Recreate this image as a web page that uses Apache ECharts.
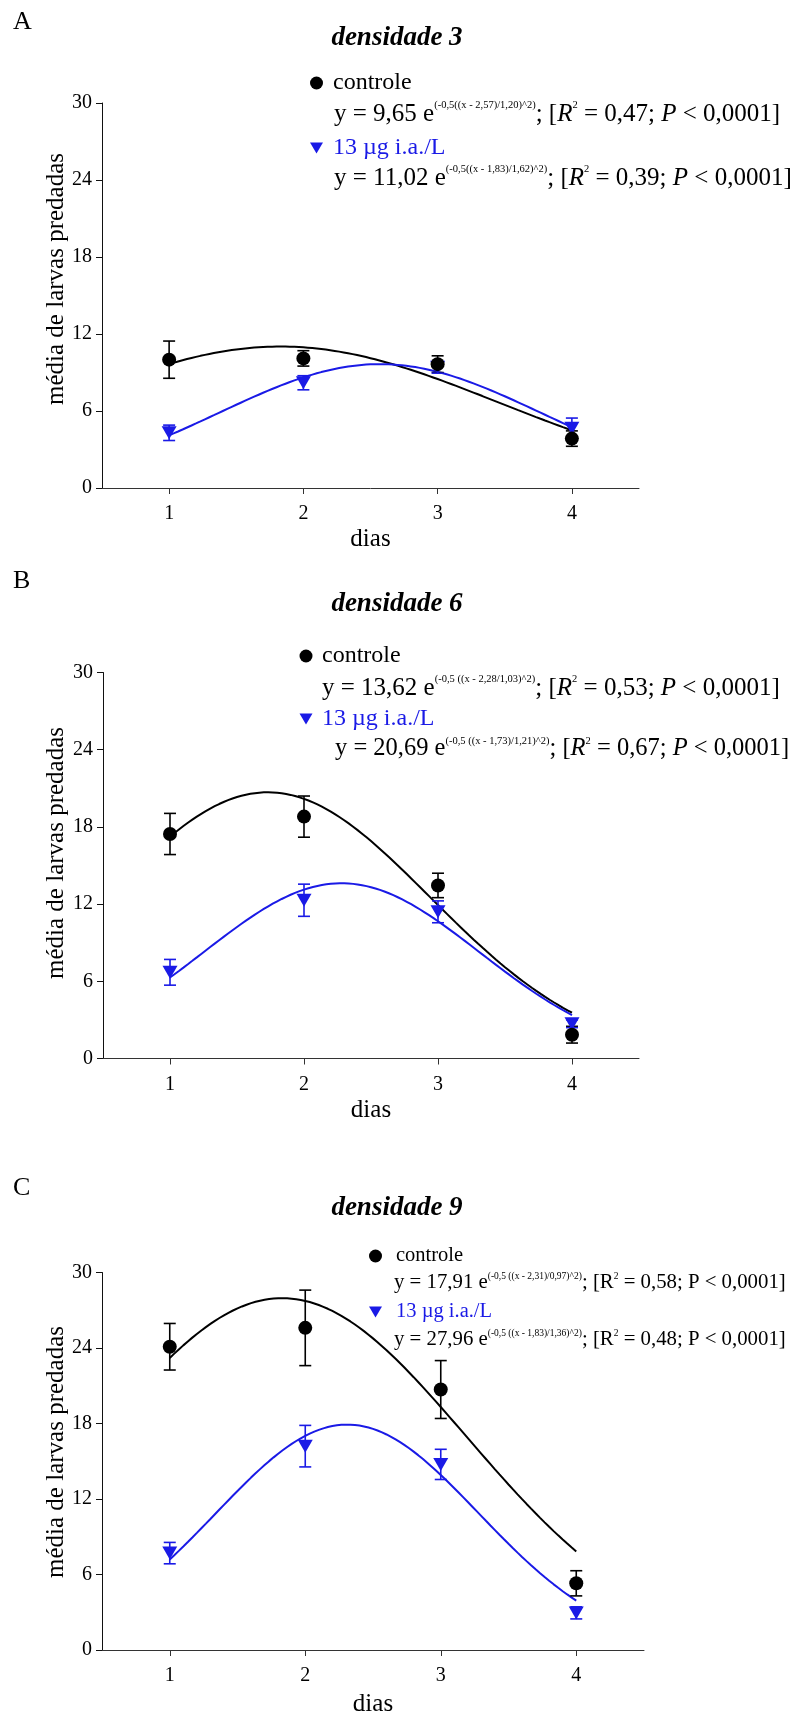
<!DOCTYPE html>
<html>
<head>
<meta charset="utf-8">
<script src="https://cdn.jsdelivr.net/npm/echarts@6/dist/echarts.min.js"></script>
<style>
  html, body { margin: 0; padding: 0; background: #fff; }
  #chart { width: 792px; height: 1718px; }
</style>
</head>
<body>
<div id="chart"></div>
<script>
// ---- data: mean number of preyed larvae per day (± error) ----
const dias = [1, 2, 3, 4];
const yTicks = [0, 6, 12, 18, 24, 30];

// densidade 3
const controleA    = [10.0, 10.1, 9.65, 3.85];
const controleAErr = [1.45, 0.6, 0.65, 0.6];
const tratA        = [4.3, 8.2, 9.4, 4.65];
const tratAErr     = [0.6, 0.55, 0.45, 0.8];

// densidade 6
const controleB    = [17.45, 18.8, 13.45, 1.85];
const controleBErr = [1.6, 1.6, 0.95, 0.65];
const tratB        = [6.7, 12.3, 11.4, 2.7];
const tratBErr     = [1.0, 1.25, 0.85, 0.3];

// densidade 9
const controleC    = [24.1, 25.6, 20.7, 5.3];
const controleCErr = [1.85, 3.0, 2.3, 1.0];
const tratC        = [7.7, 16.2, 14.75, 2.95];
const tratCErr     = [0.85, 1.65, 1.2, 0.48];

// Gaussian fit parameters [a, x0, b] for y = a·exp(-0.5((x - x0)/b)^2),
// black curve and blue curve of each panel
const fitBlackA = [11.02, 1.83, 1.62];
const fitBlueA  = [9.65, 2.57, 1.20];
const fitBlackB = [20.69, 1.73, 1.21];
const fitBlueB  = [13.62, 2.28, 1.03];
const fitBlackC = [27.96, 1.83, 1.36];
const fitBlueC  = [17.91, 2.31, 0.97];

// legend / equation texts
const lblControle = 'controle';
const lblTrat = '13 µg i.a./L';
const yName = 'média de larvas predadas';
const eqA = [
  '{n|y = 9,65 e}{s|(-0,5((x - 2,57)/1,20)^2)}{n|; [}{i|R}{s|2}{n| = 0,47; }{i|P}{n| < 0,0001]}',
  '{n|y = 11,02 e}{s|(-0,5((x - 1,83)/1,62)^2)}{n|; [}{i|R}{s|2}{n| = 0,39; }{i|P}{n| < 0,0001]}'
];
const eqB = [
  '{n|y = 13,62 e}{s|(-0,5 ((x - 2,28/1,03)^2)}{n|; [}{i|R}{s|2}{n| = 0,53; }{i|P}{n| < 0,0001]}',
  '{n|y = 20,69 e}{s|(-0,5 ((x - 1,73)/1,21)^2)}{n|; [}{i|R}{s|2}{n| = 0,67; }{i|P}{n| < 0,0001]}'
];
const eqC = [
  '{n|y = 17,91 e}{s|(-0,5 ((x - 2,31)/0,97)^2)}{n|; [R}{s|2}{n| = 0,58; P < 0,0001]}',
  '{n|y = 27,96 e}{s|(-0,5 ((x - 1,83)/1,36)^2)}{n|; [R}{s|2}{n| = 0,48; P < 0,0001]}'
];

// ---- styling ----
const FONT = '"Liberation Serif", "Times New Roman", serif';
const BLACK = '#000000';
const BLUE = '#1a1ae6';

const panels = [
  { letter: 'A', title: 'densidade 3', ctrl: controleA, ctrlErr: controleAErr, trat: tratA, tratErr: tratAErr,
    fitK: fitBlackA, fitB: fitBlueA, eq: eqA,
    grid: { left: 102, top: 103, width: 537, height: 385 },
    letterY: 22, titleY: 38, yNameY: 279, xNameGap: 39,
    leg: { mx: 316.5, tx: 333, ex1: 334, ex2: 334, y1: 83, y2: 114, y3: 148, y4: 178,
           lbl: 24, eq1: 25, eq2: 25, sup: 10.5 } },
  { letter: 'B', title: 'densidade 6', ctrl: controleB, ctrlErr: controleBErr, trat: tratB, tratErr: tratBErr,
    fitK: fitBlackB, fitB: fitBlueB, eq: eqB,
    grid: { left: 103, top: 672.5, width: 536, height: 386 },
    letterY: 581, titleY: 604, yNameY: 853, xNameGap: 39,
    leg: { mx: 306, tx: 322, ex1: 322, ex2: 335, y1: 656, y2: 688, y3: 719, y4: 749,
           lbl: 24, eq1: 25, eq2: 24.5, sup: 10.5 } },
  { letter: 'C', title: 'densidade 9', ctrl: controleC, ctrlErr: controleCErr, trat: tratC, tratErr: tratCErr,
    fitK: fitBlackC, fitB: fitBlueC, eq: eqC,
    grid: { left: 102, top: 1272.5, width: 542, height: 391 },
    letterY: 1188, titleY: 1208, yNameY: 1452, xNameGap: 42,
    leg: { mx: 375.5, tx: 396, ex1: 394, ex2: 394, y1: 1256, y2: 1283, y3: 1312, y4: 1340,
           lbl: 20.5, eq1: 20.8, eq2: 20.8, sup: 9.5 } }
];

// curve sampled from the fitted Gaussian between day 1 and day 4
function gaussCurve(p) {
  const pts = [];
  for (let i = 0; i <= 90; i++) {
    const x = 1 + 3 * i / 90;
    pts.push([x, p[0] * Math.exp(-0.5 * Math.pow((x - p[1]) / p[2], 2))]);
  }
  return pts;
}

function errData(mean, err) {
  return dias.map((d, i) => [d, mean[i] - err[i], mean[i] + err[i]]);
}

function errRender(color) {
  return function (params, api) {
    const x = api.value(0);
    const lo = api.coord([x, api.value(1)]);
    const hi = api.coord([x, api.value(2)]);
    const hw = 6;
    const st = { stroke: color, lineWidth: 1.6 };
    return {
      type: 'group',
      children: [
        { type: 'line', shape: { x1: hi[0], y1: hi[1], x2: lo[0], y2: lo[1] }, style: st },
        { type: 'line', shape: { x1: hi[0] - hw, y1: hi[1], x2: hi[0] + hw, y2: hi[1] }, style: st },
        { type: 'line', shape: { x1: lo[0] - hw, y1: lo[1], x2: lo[0] + hw, y2: lo[1] }, style: st }
      ]
    };
  };
}

function richFor(color, size, sup) {
  return {
    n: { fontFamily: FONT, fontSize: size, color: color, lineHeight: size + 3 },
    i: { fontFamily: FONT, fontSize: size, color: color, lineHeight: size + 3, fontStyle: 'italic' },
    s: { fontFamily: FONT, fontSize: sup, color: color, lineHeight: sup, verticalAlign: 'top' }
  };
}

const grids = [], xAxes = [], yAxes = [], series = [], graphics = [];

panels.forEach((p, k) => {
  grids.push(Object.assign({ containLabel: false }, p.grid));
  xAxes.push({
    gridIndex: k, type: 'value', min: 0.5, max: 4.5,
    name: 'dias', nameLocation: 'middle', nameGap: p.xNameGap,
    nameTextStyle: { fontFamily: FONT, fontSize: 25, color: BLACK },
    axisLine: { show: true, lineStyle: { color: '#333', width: 1 } },
    axisTick: { show: true, length: 6, customValues: dias, lineStyle: { color: '#333', width: 1 } },
    axisLabel: { customValues: dias, fontFamily: FONT, fontSize: 20, color: BLACK, margin: 16 },
    splitLine: { show: false }
  });
  yAxes.push({
    gridIndex: k, type: 'value', min: yTicks[0], max: yTicks[yTicks.length - 1], interval: 6,
    axisLine: { show: true, lineStyle: { color: '#111', width: 1 } },
    axisTick: { show: true, length: 6, lineStyle: { color: '#111', width: 1 } },
    axisLabel: { fontFamily: FONT, fontSize: 20, color: BLACK, margin: 10 },
    splitLine: { show: false }
  });

  // fitted curves
  series.push({
    type: 'line', xAxisIndex: k, yAxisIndex: k, data: gaussCurve(p.fitK),
    showSymbol: false, smooth: false, lineStyle: { color: BLACK, width: 2 }, z: 3, silent: true
  });
  series.push({
    type: 'line', xAxisIndex: k, yAxisIndex: k, data: gaussCurve(p.fitB),
    showSymbol: false, smooth: false, lineStyle: { color: BLUE, width: 2 }, z: 3, silent: true
  });
  // error bars
  series.push({
    type: 'custom', xAxisIndex: k, yAxisIndex: k, data: errData(p.ctrl, p.ctrlErr),
    encode: { x: 0, y: [1, 2] }, renderItem: errRender(BLACK), z: 4, silent: true
  });
  series.push({
    type: 'custom', xAxisIndex: k, yAxisIndex: k, data: errData(p.trat, p.tratErr),
    encode: { x: 0, y: [1, 2] }, renderItem: errRender(BLUE), z: 4, silent: true
  });
  // means
  series.push({
    type: 'scatter', xAxisIndex: k, yAxisIndex: k, data: dias.map((d, i) => [d, p.trat[i]]),
    symbol: 'triangle', symbolRotate: 180, symbolSize: [15, 13],
    itemStyle: { color: BLUE, opacity: 1 }, z: 5, silent: true
  });
  series.push({
    type: 'scatter', xAxisIndex: k, yAxisIndex: k, data: dias.map((d, i) => [d, p.ctrl[i]]),
    symbol: 'circle', symbolSize: 14,
    itemStyle: { color: BLACK, opacity: 1 }, z: 6, silent: true
  });

  // y axis title
  graphics.push({
    type: 'text', x: 56, y: p.yNameY, rotation: Math.PI / 2,
    style: { text: yName, font: '25px ' + FONT, fill: BLACK, align: 'center', verticalAlign: 'middle' }
  });

  // panel letter and title
  graphics.push({
    type: 'text', x: 13, y: p.letterY,
    style: { text: p.letter, font: '26px ' + FONT, fill: BLACK, verticalAlign: 'middle' }
  });
  graphics.push({
    type: 'text', x: 397, y: p.titleY,
    style: { text: p.title, font: 'italic bold 27px ' + FONT, fill: BLACK, align: 'center', verticalAlign: 'middle' }
  });

  // legend
  const L = p.leg;
  graphics.push({ type: 'circle', shape: { cx: L.mx, cy: L.y1, r: 6.5 }, style: { fill: BLACK } });
  graphics.push({
    type: 'text', x: L.tx, y: L.y1,
    style: { text: lblControle, font: L.lbl + 'px ' + FONT, fill: BLACK, verticalAlign: 'middle' }
  });
  graphics.push({
    type: 'text', x: L.ex1, y: L.y2,
    style: { text: p.eq[0], rich: richFor(BLACK, L.eq1, L.sup), verticalAlign: 'middle' }
  });
  graphics.push({
    type: 'polygon',
    shape: { points: [[L.mx - 6.5, L.y3 - 5.5], [L.mx + 6.5, L.y3 - 5.5], [L.mx, L.y3 + 5.5]] },
    style: { fill: BLUE }
  });
  graphics.push({
    type: 'text', x: L.tx, y: L.y3,
    style: { text: lblTrat, font: L.lbl + 'px ' + FONT, fill: BLUE, verticalAlign: 'middle' }
  });
  graphics.push({
    type: 'text', x: L.ex2, y: L.y4,
    style: { text: p.eq[1], rich: richFor(BLUE, L.eq2, L.sup), verticalAlign: 'middle' }
  });
});

const chart = echarts.init(document.getElementById('chart'), null, { renderer: 'canvas' });
chart.setOption({
  animation: false,
  backgroundColor: '#ffffff',
  grid: grids,
  xAxis: xAxes,
  yAxis: yAxes,
  series: series,
  graphic: graphics
});
</script>
</body>
</html>
